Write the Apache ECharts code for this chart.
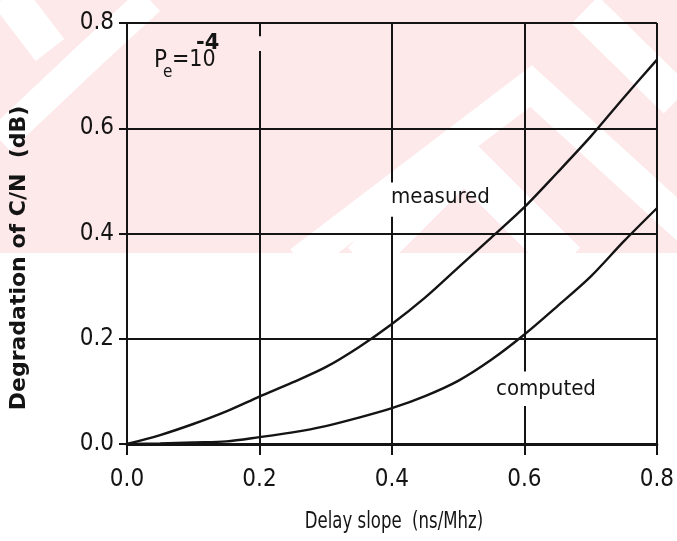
<!DOCTYPE html>
<html>
<head>
<meta charset="utf-8">
<script src="https://cdn.jsdelivr.net/npm/echarts@6/dist/echarts.min.js"></script>
<style>
  html, body { margin: 0; padding: 0; background: #ffffff; }
  #chart { width: 677px; height: 541px; }
</style>
</head>
<body>
<div id="chart"></div>
<script>
// Delay slope (ns/MHz) sample points
const delaySlope = [0, 0.05, 0.1, 0.15, 0.2, 0.25, 0.3, 0.35, 0.4, 0.45, 0.5, 0.55, 0.6, 0.65, 0.7, 0.75, 0.8];
// C/N degradation (dB), measured
const measured = [0, 0.017, 0.038, 0.062, 0.090, 0.117, 0.146, 0.184, 0.228, 0.278, 0.335, 0.392, 0.450, 0.516, 0.584, 0.658, 0.730];
// C/N degradation (dB), computed
const computed = [0, 0.001, 0.003, 0.005, 0.013, 0.022, 0.034, 0.050, 0.068, 0.091, 0.120, 0.160, 0.208, 0.262, 0.318, 0.385, 0.448];
// axis ticks
const xTicks = [0, 0.2, 0.4, 0.6, 0.8];
const yTicks = [0, 0.2, 0.4, 0.6, 0.8];

const INK = '#141414';
const FONT = "'DejaVu Sans Condensed', 'Liberation Sans', sans-serif";
const BOLD_FONT = "'DejaVu Sans', sans-serif";

// vertical grid lines, broken where the annotations sit (y ranges in dB)
const vGridPieces = [
  { x: 0.2, spans: [[0, 0.747], [0.775, 0.8]] },
  { x: 0.4, spans: [[0, 0.432], [0.497, 0.8]] },
  { x: 0.6, spans: [[0, 0.072], [0.138, 0.8]] },
  { x: 0.8, spans: [[0, 0.8]] }
];
const gridSegments = [];
vGridPieces.forEach(p => p.spans.forEach(s => {
  gridSegments.push([{ coord: [p.x, s[0]] }, { coord: [p.x, s[1]] }]);
}));

const pair = (xs, ys) => xs.map((x, i) => [x, ys[i]]);

// faint pink backdrop with white chevron bands
const PINK = '#fde8ea';
const band = (pts, w) => ({
  type: 'polyline', z: -100, silent: true,
  shape: { points: pts },
  style: { stroke: '#ffffff', lineWidth: w, fill: null, lineJoin: 'miter' }
});
const backdrop = [
  { type: 'rect', z: -101, silent: true, shape: { x: 0, y: 0, width: 677, height: 253 }, style: { fill: PINK } },
  band([[8, -5], [50, 50]], 36),
  band([[0, 140], [90, 55], [150, 0]], 30),
  band([[362, 262], [464, 160], [566, 262]], 40),
  band([[300, 262], [531, 86], [700, 240]], 32),
  band([[585, 10], [677, 100]], 38),
  { type: 'rect', z: -99, silent: true, shape: { x: 0, y: 253, width: 677, height: 300 }, style: { fill: '#ffffff' } }
];

const annot = (x, y, text, size, weight, family) => ({
  type: 'text', left: x, top: y, z: 50,
  style: { text: text, fill: INK, font: (weight || 'normal') + ' ' + size + 'px ' + (family || FONT) }
});

const chart = echarts.init(document.getElementById('chart'), null, { renderer: 'canvas' });
chart.setOption({
  backgroundColor: '#ffffff',
  animation: false,
  grid: { left: 127, right: 19, top: 23, bottom: 97, containLabel: false },
  xAxis: {
    type: 'value', min: 0, max: 0.8, interval: 0.2,
    axisLine: { show: true, onZero: false, lineStyle: { color: INK, width: 3 } },
    axisTick: { show: true, inside: false, length: 11, lineStyle: { color: INK, width: 2 } },
    axisLabel: { color: INK, fontSize: 24, fontFamily: FONT, margin: 24, formatter: v => v.toFixed(1),
      customValues: xTicks },
    splitLine: { show: false }
  },
  yAxis: {
    type: 'value', min: 0, max: 0.8, interval: 0.2,
    axisLine: { show: true, lineStyle: { color: INK, width: 2 } },
    axisTick: { show: true, inside: false, length: 8, lineStyle: { color: INK, width: 2 } },
    axisLabel: { color: INK, fontSize: 24, fontFamily: FONT, margin: 13, formatter: v => v.toFixed(1),
      customValues: yTicks },
    splitLine: { show: true, lineStyle: { color: INK, width: 2 } }
  },
  graphic: backdrop.concat([
    annot(391, 186, 'measured', 22),
    annot(496, 378, 'computed', 22),
    annot(154, 49, 'P', 24),
    annot(163, 64, 'e', 17),
    annot(172, 49, '=10', 23),
    annot(196, 33, '-4', 21, 'bold', BOLD_FONT),
    // axis titles
    {
      type: 'text', x: 394, y: 522, scaleX: 0.8, z: 50,
      style: { text: 'Delay slope  (ns/Mhz)', fill: INK, font: '23px ' + FONT, textAlign: 'center', textVerticalAlign: 'middle' }
    },
    {
      type: 'text', x: 19, y: 258, rotation: Math.PI / 2, z: 50,
      style: { text: 'Degradation of C/N  (dB)', fill: INK, font: 'bold 22px ' + BOLD_FONT, textAlign: 'center', textVerticalAlign: 'middle' }
    }
  ]),
  series: [
    {
      name: 'grid', type: 'line', data: [], silent: true,
      markLine: {
        silent: true, symbol: 'none', animation: false,
        label: { show: false },
        lineStyle: { color: INK, width: 2, type: 'solid' },
        data: gridSegments
      }
    },
    {
      name: 'measured', type: 'line', data: pair(delaySlope, measured),
      smooth: 0.3, showSymbol: false, z: 5,
      lineStyle: { color: INK, width: 2.4 }
    },
    {
      name: 'computed', type: 'line', data: pair(delaySlope, computed),
      smooth: 0.3, showSymbol: false, z: 5,
      lineStyle: { color: INK, width: 2.4 }
    }
  ]
});
</script>
</body>
</html>
